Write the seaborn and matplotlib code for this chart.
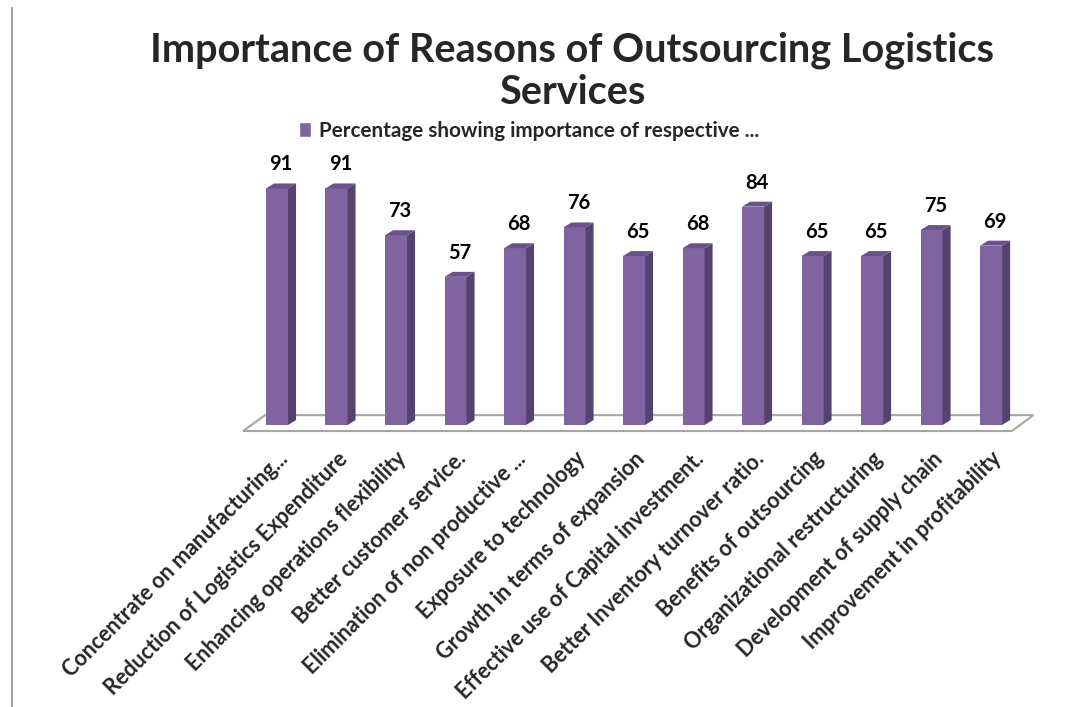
import matplotlib
matplotlib.use("Agg")
import matplotlib.pyplot as plt
from matplotlib.patches import Polygon, Patch
from matplotlib.lines import Line2D
import seaborn as sns

categories = [
    "Concentrate on manufacturing...",
    "Reduction of Logistics Expenditure",
    "Enhancing operations flexibility",
    "Better customer service.",
    "Elimination of non productive ...",
    "Exposure to technology",
    "Growth in terms of expansion",
    "Effective use of Capital investment.",
    "Better Inventory turnover ratio.",
    "Benefits of outsourcing",
    "Organizational restructuring",
    "Development of supply chain",
    "Improvement in profitability",
]
values = [91, 91, 73, 57, 68, 76, 65, 68, 84, 65, 65, 75, 69]
series_name = "Percentage showing importance of respective ..."
title = "Importance of Reasons of Outsourcing Logistics\nServices"

FRONT = "#8064A2"
SIDE = "#56426F"
TOP = "#6A5189"

sns.set_style("white")
plt.rcParams["font.family"] = ["Lato", "DejaVu Sans"]

fig = plt.figure(figsize=(10.9, 7.07), dpi=100)
ax = fig.add_axes([0.2211, 0.3878, 0.7294, 0.4141])

sns.barplot(x=categories, y=values, color=FRONT, saturation=1, width=0.37,
            ax=ax, zorder=3, linewidth=0)

ax.set_xlim(-0.605, 12.756)
ax.set_ylim(-3, 109.6)

# floor of the 3d chart
floor = Polygon([(-0.57, -2.3), (12.35, -2.3), (12.71, 3.8), (-0.2, 3.8)],
                closed=True, facecolor="white", edgecolor="#A6A6A6",
                linewidth=1.5, zorder=1)
ax.add_patch(floor)

# side and top faces for a 3d look
dx, dy = 0.135, 1.9
for bar, v in zip(ax.patches[:len(values)], values):
    x0 = bar.get_x()
    w = bar.get_width()
    h = bar.get_height()
    side = Polygon([(x0 + w, 0), (x0 + w + dx, dy), (x0 + w + dx, h + dy), (x0 + w, h)],
                   closed=True, facecolor=SIDE, edgecolor="none", zorder=3)
    top = Polygon([(x0, h), (x0 + w, h), (x0 + w + dx, h + dy), (x0 + dx, h + dy)],
                  closed=True, facecolor=TOP, edgecolor="none", zorder=3)
    ax.add_patch(side)
    ax.add_patch(top)
    ax.text(x0 + (w + dx) / 2, h + dy + 3.5, str(v), ha="center", va="bottom",
            fontsize=14.5, fontweight="bold", color="black")

for s in ax.spines.values():
    s.set_visible(False)
ax.set_yticks([])
ax.set_ylabel("")
ax.set_xticks(range(len(categories)))
ax.set_xticklabels(categories, rotation=45, ha="right", rotation_mode="anchor",
                   fontsize=15.5, fontweight="bold")
ax.tick_params(axis="x", length=0, pad=11)

leg = fig.legend(handles=[Patch(facecolor=FRONT, label=series_name)],
                 loc="center left", bbox_to_anchor=(0.274, 1 - 131 / 707),
                 frameon=False, handlelength=0.6, handleheight=0.75,
                 handletextpad=0.4, borderpad=0, borderaxespad=0,
                 prop={"size": 14.9, "weight": "bold"})

fig.text(0.525, 1 - 71 / 707, title, ha="center", va="center", fontsize=28.5,
         fontweight="bold", linespacing=1.15)

fig.add_artist(Line2D([12 / 1090, 12 / 1090], [0, 1 - 8 / 707], color="#A0A0A0",
                      linewidth=1.5))

fig.savefig("out.png", dpi=100)
